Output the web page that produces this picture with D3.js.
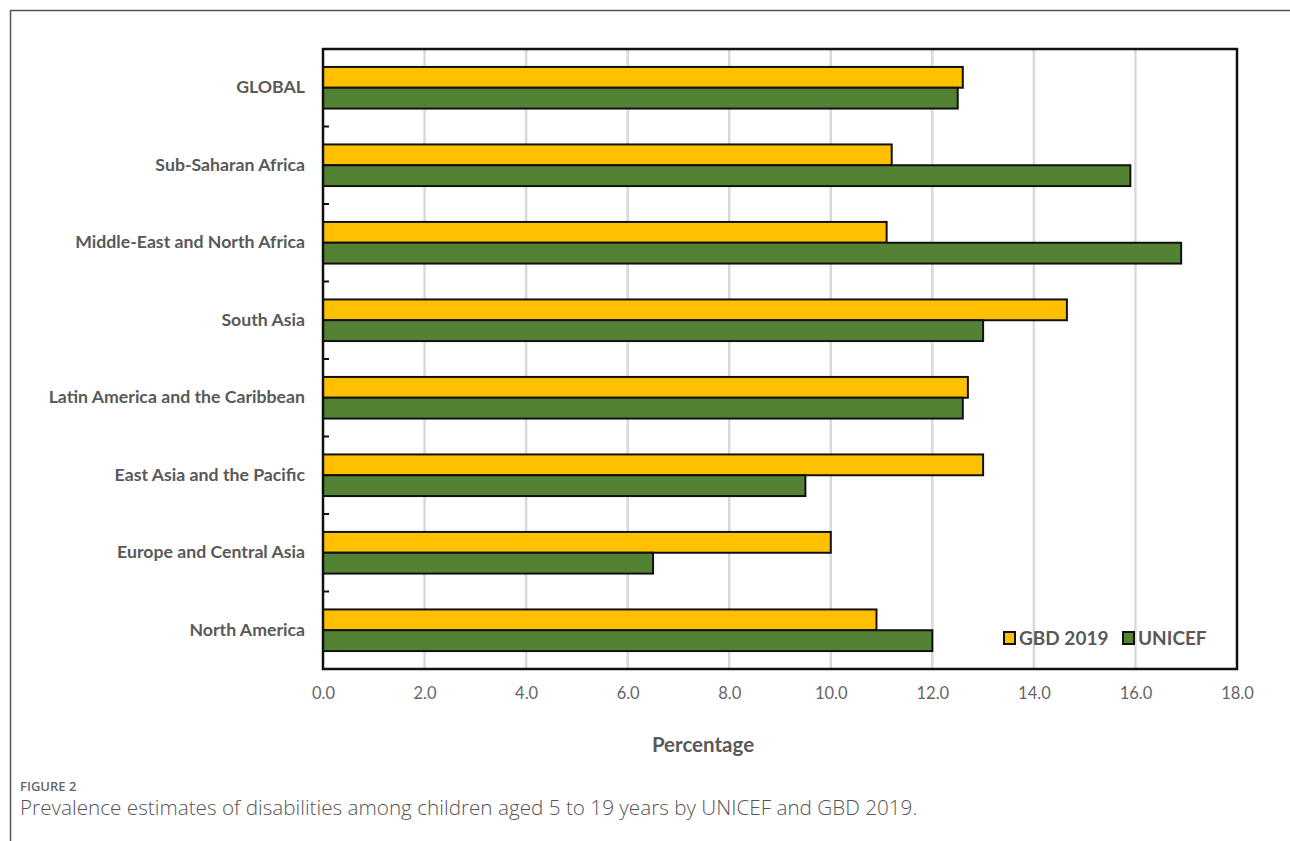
<!DOCTYPE html>
<html>
<head>
<meta charset="utf-8">
<script src="https://cdn.jsdelivr.net/npm/d3@7"></script>
<style>
  html, body { margin: 0; padding: 0; background: #fff; }
  svg { display: block; }
</style>
</head>
<body>
<svg id="chart" width="1290" height="841"></svg>
<script>
const categories = ["GLOBAL", "Sub-Saharan Africa", "Middle-East and North Africa", "South Asia",
  "Latin America and the Caribbean", "East Asia and the Pacific", "Europe and Central Asia", "North America"];
const seriesNames = ["GBD 2019", "UNICEF"];
const gbd2019 = [12.6, 11.2, 11.1, 14.65, 12.7, 13.0, 10.0, 10.9];
const unicef  = [12.5, 15.9, 16.9, 13.0, 12.6, 9.5, 6.5, 12.0];
const xTicks = [0, 2, 4, 6, 8, 10, 12, 14, 16, 18];
const xTitle = "Percentage";
const figLabel = "FIGURE 2";
const caption = "Prevalence estimates of disabilities among children aged 5 to 19 years by UNICEF and GBD 2019.";

const colors = {"GBD 2019": "#FFC000", "UNICEF": "#548235"};
const textGray = "#595959";
const font = "Lato, 'Open Sans', sans-serif";

const svg = d3.select("#chart");
const pLeft = 323, pRight = 1237, pTop = 49, pBottom = 669;

// outer frame (top and left rules)
svg.append("line").attr("x1", 10).attr("x2", 1290).attr("y1", 10.5).attr("y2", 10.5)
  .attr("stroke", "#555").attr("stroke-width", 1.5);
svg.append("line").attr("x1", 10.5).attr("x2", 10.5).attr("y1", 10).attr("y2", 841)
  .attr("stroke", "#555").attr("stroke-width", 1.5);

const x = d3.scaleLinear().domain([0, 18]).range([pLeft, pRight]);
const pad = 0.463;
const y = d3.scaleBand().domain(categories).range([pTop, pBottom]).paddingInner(pad).paddingOuter(pad / 2);
const ySub = d3.scaleBand().domain(seriesNames).range([0, y.bandwidth()]);

// gridlines
svg.append("g").selectAll("line").data(xTicks.filter(t => t > 0 && t < 18)).join("line")
  .attr("x1", d => x(d)).attr("x2", d => x(d)).attr("y1", pTop).attr("y2", pBottom)
  .attr("stroke", "#d9d9d9").attr("stroke-width", 2.5);

// bars
const rows = categories.map((c, i) => ({cat: c, vals: [
  {s: "GBD 2019", v: gbd2019[i]}, {s: "UNICEF", v: unicef[i]}]}));
const g = svg.append("g").selectAll("g").data(rows).join("g")
  .attr("transform", d => `translate(0,${y(d.cat)})`);
g.selectAll("rect").data(d => d.vals).join("rect")
  .attr("x", x(0)).attr("y", d => ySub(d.s))
  .attr("width", d => x(d.v) - x(0)).attr("height", ySub.bandwidth())
  .attr("fill", d => colors[d.s]).attr("stroke", "#111").attr("stroke-width", 2);

// plot border
svg.append("rect").attr("x", pLeft).attr("y", pTop).attr("width", pRight - pLeft).attr("height", pBottom - pTop)
  .attr("fill", "none").attr("stroke", "#111").attr("stroke-width", 2.5);

// inner y tick marks at category boundaries
const step = y.step();
const bounds = categories.slice(1).map(c => y(c) - step * pad / 2);
svg.append("g").selectAll("line").data(bounds).join("line")
  .attr("x1", pLeft).attr("x2", pLeft + 6).attr("y1", d => d).attr("y2", d => d)
  .attr("stroke", "#111").attr("stroke-width", 2);

// y axis labels
const yAxis = svg.append("g").attr("transform", `translate(${pLeft},0)`)
  .call(d3.axisLeft(y).tickSize(0).tickPadding(18));
yAxis.select(".domain").remove();
yAxis.selectAll("text").attr("font-family", font).attr("font-weight", 700)
  .attr("font-size", "17.7px").attr("fill", textGray);

// x axis labels
const xAxis = svg.append("g").attr("transform", `translate(0,${pBottom})`)
  .call(d3.axisBottom(x).tickValues(xTicks).tickFormat(d3.format(".1f")).tickSize(0).tickPadding(18));
xAxis.select(".domain").remove();
xAxis.selectAll("text").attr("font-family", font).attr("font-size", "16.5px").attr("fill", "#666");

// x title
svg.append("text").attr("x", 703).attr("y", 752).attr("text-anchor", "middle")
  .attr("font-family", font).attr("font-weight", 700).attr("font-size", "20.5px").attr("fill", textGray)
  .text(xTitle);

// legend
const legendItems = [{s: "GBD 2019", x: 1004}, {s: "UNICEF", x: 1123}];
const lg = svg.append("g").selectAll("g").data(legendItems).join("g")
  .attr("transform", d => `translate(${d.x},632)`);
lg.append("rect").attr("width", 11).attr("height", 12).attr("fill", d => colors[d.s])
  .attr("stroke", "#111").attr("stroke-width", 2);
lg.append("text").attr("x", 15).attr("y", 13).attr("font-family", font).attr("font-weight", 700)
  .attr("font-size", "19px").attr("fill", textGray).text(d => d.s);

// caption
svg.append("text").attr("x", 20).attr("y", 791).attr("font-family", "'Open Sans', sans-serif")
  .attr("font-weight", 600).attr("font-size", "13px").attr("fill", "#666").text(figLabel);
svg.append("text").attr("x", 20).attr("y", 815).attr("font-family", "'Open Sans', sans-serif")
  .attr("font-weight", 300).attr("font-size", "20.7px").attr("fill", "#555").text(caption);
</script>
</body>
</html>
